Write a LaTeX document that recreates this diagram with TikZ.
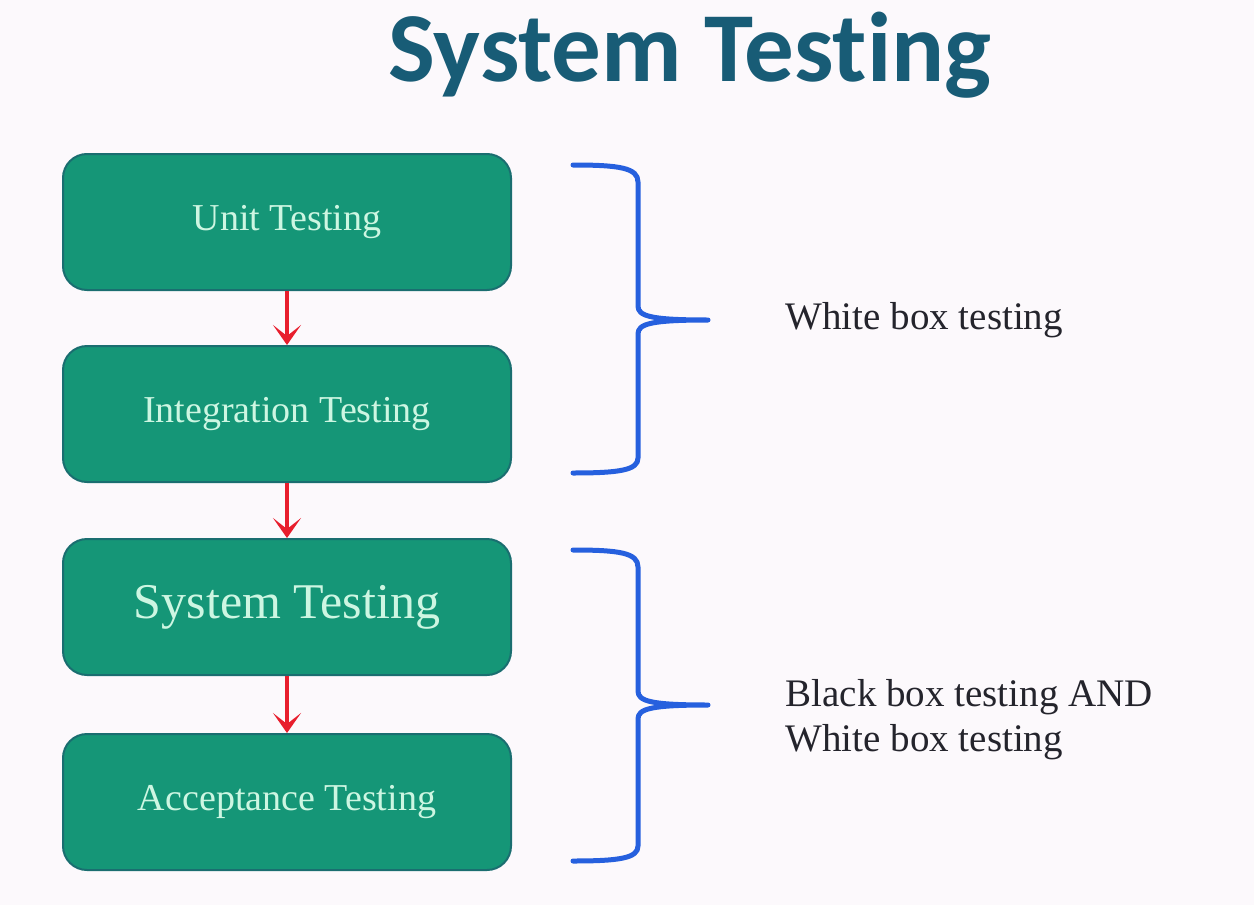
\documentclass[tikz,border=0pt]{standalone}
\usepackage{fontspec}
\setmainfont{Liberation Serif}
\newfontfamily\titlefont[Ligatures=NoCommon]{Carlito}
\usetikzlibrary{arrows.meta}
\definecolor{pagebg}{RGB}{252,249,252}
\definecolor{titleblue}{RGB}{24,92,118}
\definecolor{boxfill}{RGB}{21,150,119}
\definecolor{boxedge}{RGB}{26,110,112}
\definecolor{boxtext}{RGB}{205,246,226}
\definecolor{flowred}{RGB}{232,30,45}
\definecolor{braceblue}{RGB}{38,96,222}
\definecolor{notetext}{RGB}{36,36,44}
\tikzset{
  stage/.style={draw=boxedge, line width=2pt, fill=boxfill, rounded corners=24pt,
    minimum width=448pt, minimum height=136pt, text=boxtext, font=\fontsize{38}{44}\selectfont},
  flow/.style={draw=flowred, line width=3.5pt,
    -{Stealth[length=20pt, width=28pt, inset=11pt]}},
  bracket/.style={draw=braceblue, line width=5pt, line cap=round, line join=round},
  note/.style={anchor=west, align=left, text=notetext, font=\fontsize{39}{45}\selectfont}
}
\begin{document}
\begin{tikzpicture}[x=1pt, y=-1pt]
  \fill[pagebg] (0,0) rectangle (1254,905);
  \useasboundingbox (0,0) rectangle (1254,905);

  % heading (the zero kern keeps t and i as separate glyphs)
  \node[text=titleblue, font=\titlefont\bfseries\fontsize{99}{110}\selectfont] (title) at (690,55) {System Test\kern0pt ing};

  % testing levels
  \node[stage] (unit) at (287,222) {Unit Testing};
  \node[stage] (integ) at (287,414) {Integration Testing};
  \node[stage, font=\fontsize{50}{56}\selectfont] (sys) at (287,607) {System Testing};
  \node[stage] (accept) at (287,802) {Acceptance Testing};

  \draw[flow] (unit.south) -- (integ.north);
  \draw[flow] (integ.south) -- (sys.north);
  \draw[flow] (sys.south) -- (accept.north);

  % braces grouping the levels
  \coordinate (tipA) at (708,320);
  \coordinate (tipB) at (708,705);
  \draw[bracket] (573,165) .. controls (620,165) and (638,168) .. (638,182)
    -- (638,306) .. controls (638,316) and (650,320) .. (tipA)
    .. controls (650,320) and (638,324) .. (638,334)
    -- (638,458) .. controls (638,470) and (620,473) .. (573,473);
  \draw[bracket] (573,550) .. controls (620,550) and (638,553) .. (638,567)
    -- (638,691) .. controls (638,701) and (650,705) .. (tipB)
    .. controls (650,705) and (638,709) .. (638,719)
    -- (638,846) .. controls (638,858) and (620,861) .. (573,861);

  \node[note] (white) at (782,320) {White box testing};
  \node[note] (both) at (782,720) {Black box testing AND\\White box testing};
\end{tikzpicture}
\end{document}
